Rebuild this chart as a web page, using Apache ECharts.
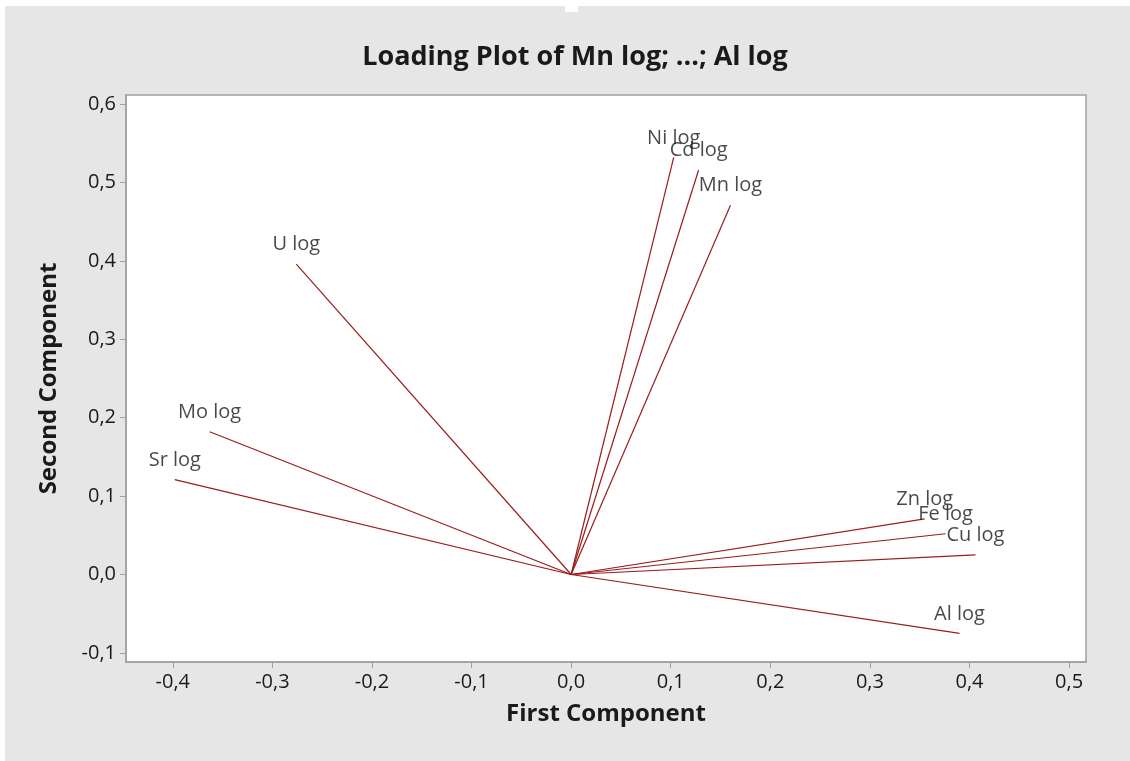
<!DOCTYPE html>
<html>
<head>
<meta charset="utf-8">
<script src="https://cdn.jsdelivr.net/npm/echarts@6/dist/echarts.min.js"></script>
<style>
html,body{margin:0;padding:0;background:#ffffff;}
#chart{width:1130px;height:761px;}
</style>
</head>
<body>
<div id="chart"></div>
<script>
var variables = ['Ni log','Cd log','Mn log','U log','Mo log','Sr log','Zn log','Fe log','Cu log','Al log'];
var firstComponent  = [0.103, 0.128, 0.160, -0.276, -0.363, -0.398, 0.355, 0.376, 0.406, 0.390];
var secondComponent = [0.532, 0.516, 0.471, 0.396, 0.182, 0.121, 0.071, 0.052, 0.025, -0.075];
var xTicks = [-0.4,-0.3,-0.2,-0.1,0.0,0.1,0.2,0.3,0.4,0.5];
var yTicks = [-0.1,0.0,0.1,0.2,0.3,0.4,0.5,0.6];

var lineColor = '#9b1c1c';
var fontFam = '"Open Sans","Noto Sans",sans-serif';
function fmt(v){ return (Math.round(v*10)/10).toFixed(1).replace('.', ','); }

var series = [];
variables.forEach(function(name, i){
  series.push({
    type: 'line',
    name: name,
    data: [[0,0],[firstComponent[i], secondComponent[i]]],
    symbol: 'none',
    lineStyle: {color: lineColor, width: 1.2},
    silent: true,
    animation: false,
    z: 2
  });
});
series.push({
  type: 'scatter',
  data: variables.map(function(n,i){ return {name:n, value:[firstComponent[i], secondComponent[i]]}; }),
  symbolSize: 1,
  itemStyle: {color: 'rgba(0,0,0,0)'},
  label: {
    show: true,
    position: 'top',
    distance: 9,
    formatter: function(p){ return p.name; },
    color: '#1a1a1a',
    fontSize: 20,
    fontFamily: fontFam
  },
  animation: false,
  z: 3
});

var chart = echarts.init(document.getElementById('chart'));
chart.setOption({
  backgroundColor: '#ffffff',
  animation: false,
  graphic: [
    {type:'rect', shape:{x:5,y:6,width:1125,height:755}, style:{fill:'#e6e6e6'}, z:-10, silent:true},
    {type:'rect', shape:{x:565,y:6,width:13,height:6}, style:{fill:'#ffffff'}, z:-9, silent:true}
  ],
  title: {
    text: 'Loading Plot of Mn log; ...; Al log',
    left: 570,
    top: 39,
    textAlign: 'center',
    textStyle: {fontSize: 27, fontWeight: 'bold', color: '#1a1a1a', fontFamily: fontFam}
  },
  grid: {
    left: 126, right: 44, top: 95, bottom: 99,
    show: true, backgroundColor: '#ffffff', borderColor: '#a0a0a0', borderWidth: 1.5
  },
  xAxis: {
    type: 'value',
    min: -0.447, max: 0.517,
    name: 'First Component',
    nameLocation: 'middle',
    nameGap: 40,
    nameTextStyle: {fontSize: 24, fontWeight: 'bold', color: '#1a1a1a', fontFamily: fontFam},
    axisLine: {show: true, onZero: false, lineStyle: {color: '#a0a0a0', width: 1.5}},
    axisTick: {show: true, length: 6, lineStyle: {color: '#a0a0a0'}, customValues: xTicks},
    axisLabel: {color: '#1a1a1a', fontSize: 20, margin: 10, fontFamily: fontFam, customValues: xTicks, formatter: fmt},
    splitLine: {show: false}
  },
  yAxis: {
    type: 'value',
    min: -0.1116, max: 0.6116,
    name: 'Second Component',
    nameLocation: 'middle',
    nameGap: 65,
    nameRotate: 90,
    nameTextStyle: {fontSize: 24, fontWeight: 'bold', color: '#1a1a1a', fontFamily: fontFam},
    axisLine: {show: true, onZero: false, lineStyle: {color: '#a0a0a0', width: 1.5}},
    axisTick: {show: true, length: 6, lineStyle: {color: '#a0a0a0'}, customValues: yTicks},
    axisLabel: {color: '#1a1a1a', fontSize: 20, margin: 10, fontFamily: fontFam, customValues: yTicks, formatter: fmt},
    splitLine: {show: false}
  },
  series: series
});
</script>
</body>
</html>
